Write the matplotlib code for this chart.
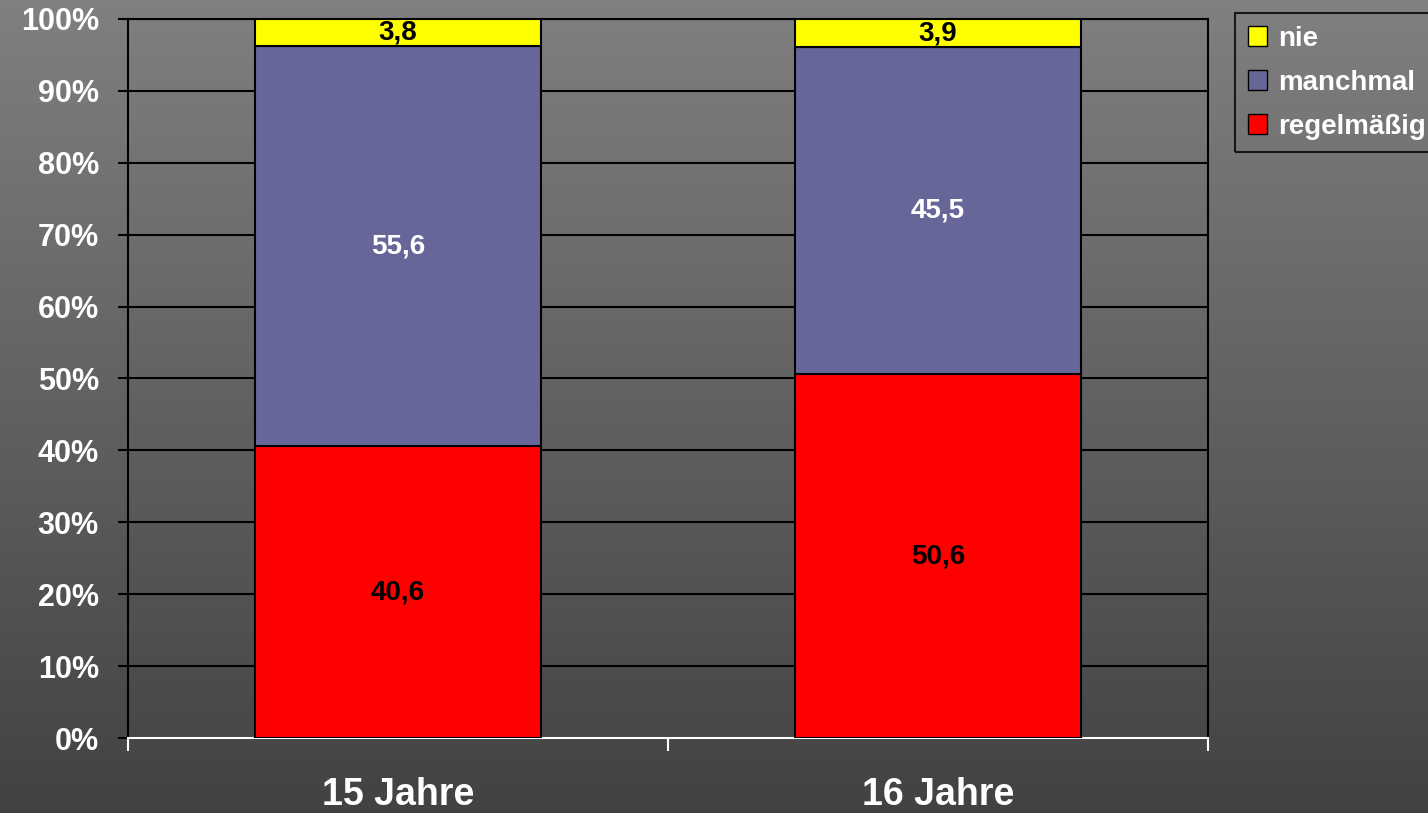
import numpy as np
import matplotlib
matplotlib.use('Agg')
import matplotlib.pyplot as plt
from matplotlib.patches import Patch
from matplotlib.ticker import FixedLocator, FuncFormatter

plt.rcParams['font.family'] = ['Liberation Sans', 'DejaVu Sans']
plt.rcParams['font.weight'] = 'bold'

# Daten
groups = ['15 Jahre', '16 Jahre']
regelmaessig = [40.6, 50.6]
manchmal = [55.6, 45.5]
nie = [3.8, 3.9]

col_reg = '#FF0000'
col_man = '#666699'
col_nie = '#FFFF00'

fig = plt.figure(figsize=(14.28, 8.13), dpi=100)

# Hintergrund mit Verlauf
bg = fig.add_axes([0, 0, 1, 1], zorder=-10)
grad = np.linspace(128, 66, 256).reshape(-1, 1) / 255.0
bg.imshow(np.dstack([grad, grad, grad]), aspect='auto', extent=[0, 1, 0, 1])
bg.axis('off')

ax = fig.add_axes([128 / 1428, 1 - 738 / 813, 1080 / 1428, 719 / 813])
ax.set_facecolor('none')

x = np.arange(len(groups))
w = 0.53
bottom2 = np.array(regelmaessig) + np.array(manchmal)
ax.bar(x, regelmaessig, w, color=col_reg, edgecolor='black', linewidth=1.5, zorder=3)
ax.bar(x, manchmal, w, bottom=regelmaessig, color=col_man, edgecolor='black', linewidth=1.5, zorder=3)
ax.bar(x, nie, w, bottom=bottom2, color=col_nie, edgecolor='black', linewidth=1.5, zorder=3)

def fmt(v):
    return f'{v:.1f}'.replace('.', ',')

for i in range(len(groups)):
    ax.text(x[i], regelmaessig[i] / 2, fmt(regelmaessig[i]), ha='center', va='center',
            fontsize=20, fontweight='bold', color='black', zorder=4)
    ax.text(x[i], regelmaessig[i] + manchmal[i] / 2, fmt(manchmal[i]), ha='center', va='center',
            fontsize=20, fontweight='bold', color='white', zorder=4)
    ax.text(x[i], bottom2[i] + nie[i] / 2, fmt(nie[i]), ha='center', va='center',
            fontsize=20, fontweight='bold', color='black', zorder=4)

ax.set_xlim(-0.5, 1.5)
ax.set_ylim(0, 100)
ax.set_yticks(np.arange(0, 101, 10))
ax.yaxis.set_major_formatter(FuncFormatter(lambda v, p: f'{int(v)}%'))
ax.grid(axis='y', color='black', linewidth=1.5, zorder=1)
ax.set_axisbelow(True)

ax.set_xticks(x)
ax.set_xticklabels(groups)
ax.xaxis.set_minor_locator(FixedLocator([-0.5, 0.5, 1.5]))
ax.tick_params(axis='x', which='major', length=0, pad=28, labelsize=27, labelcolor='white')
ax.tick_params(axis='x', which='minor', length=9, width=1.5, color='white', direction='out')
ax.tick_params(axis='y', length=7, width=1.5, color='black', pad=14, labelsize=22, labelcolor='white')
for lab in ax.get_xticklabels() + ax.get_yticklabels():
    lab.set_fontweight('bold')

for s in ['left', 'top', 'right']:
    ax.spines[s].set_color('black')
    ax.spines[s].set_linewidth(1.5)
ax.spines['bottom'].set_color('white')
ax.spines['bottom'].set_linewidth(1.5)

handles = [Patch(facecolor=col_nie, edgecolor='black', label='nie'),
           Patch(facecolor=col_man, edgecolor='black', label='manchmal'),
           Patch(facecolor=col_reg, edgecolor='black', label='regelmäßig')]
leg = fig.legend(handles=handles, loc='upper left', bbox_to_anchor=(1235 / 1428, 1 - 13 / 813),
                 frameon=True, fancybox=False, edgecolor='black', facecolor='none',
                 prop={'size': 20, 'weight': 'bold'}, handlelength=0.7, handleheight=0.7,
                 handletextpad=0.4, labelspacing=0.65, borderpad=0.45, borderaxespad=0)
leg.get_frame().set_linewidth(1.5)
for t in leg.get_texts():
    t.set_color('white')

fig.savefig('out.png', dpi=100)
